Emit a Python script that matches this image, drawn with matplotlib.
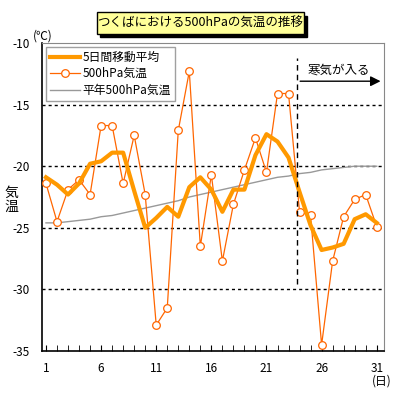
import numpy as np
import matplotlib.pyplot as plt
from matplotlib.patches import Rectangle

plt.rcParams['font.family'] = ['Noto Sans CJK JP', 'DejaVu Sans']

days = list(range(1, 32))
# 500hPa temperature (deg C)
temp500 = [-21.4, -24.5, -21.9, -21.1, -22.3, -16.7, -16.7, -21.4, -17.5, -22.3,
           -32.9, -31.5, -17.1, -12.3, -26.5, -20.7, -27.7, -23.1, -20.3, -17.7,
           -20.5, -14.1, -14.1, -23.7, -24.0, -34.5, -27.7, -24.1, -22.7, -22.3,
           -24.9]
# 5-day moving average
ma5 = [-20.9, -21.5, -22.3, -21.4, -19.8, -19.6, -18.9, -18.9, -22.0, -25.0,
       -24.2, -23.3, -24.1, -21.7, -20.9, -21.9, -23.7, -21.9, -21.9, -19.1,
       -17.4, -18.0, -19.3, -22.1, -24.8, -26.8, -26.6, -26.3, -24.3, -23.9,
       -24.6]
# normal 500hPa temperature
normal = [-24.6, -24.6, -24.5, -24.4, -24.3, -24.1, -24.0, -23.8, -23.6, -23.4,
          -23.2, -23.0, -22.8, -22.5, -22.3, -22.1, -21.9, -21.7, -21.5, -21.3,
          -21.1, -20.9, -20.8, -20.6, -20.5, -20.3, -20.2, -20.1, -20.0, -20.0,
          -20.0]
xticks = [1, 6, 11, 16, 21, 26, 31]
yticks = [-35, -30, -25, -20, -15, -10]

fig = plt.figure(figsize=(3.99, 3.99), dpi=100)
ax = fig.add_axes([0.1053, 0.1203, 0.8571, 0.7719])

for y in [-15, -20, -25, -30]:
    ax.axhline(y, color='black', lw=1, ls=(0, (2.2, 2.2)), zorder=1)

l3, = ax.plot(days, normal, color='#999999', lw=1, label='平年500hPa気温', zorder=2)
l2, = ax.plot(days, temp500, color='#FF6600', lw=0.9, marker='o', ms=5.5,
              mfc='white', mec='#FF6600', mew=0.9, label='500hPa気温', zorder=3)
l1, = ax.plot(days, ma5, color='#FF9900', lw=3, label='5日間移動平均', zorder=4)

# cold air marker
ax.plot([23.8, 23.8], [-29.6, -11.2], color='black', lw=1, ls=(0, (4, 3)), zorder=5)
ax.annotate('', xy=(31.6, -13.1), xytext=(23.8, -13.1),
            arrowprops=dict(arrowstyle='-|>', color='black', lw=1,
                            mutation_scale=15))
ax.text(24.7, -12.2, '寒気が入る', fontsize=9, va='center', ha='left')

ax.set_xlim(0.64, 31.66)
ax.set_ylim(-35, -10)
ax.set_xticks(xticks)
ax.set_xticks(days, minor=True)
ax.set_yticks(yticks)
ax.set_yticklabels([str(v) for v in yticks])
ax.tick_params(axis='x', which='both', direction='in', length=4, labelsize=8.5, pad=8)
ax.tick_params(axis='y', length=0, labelsize=8.5, pad=9)

ax.spines['left'].set_color('black')
ax.spines['bottom'].set_color('black')
ax.spines['right'].set_color('#888888')
ax.spines['top'].set_color('#888888')
ax.spines['left'].set_linewidth(1.2)
ax.spines['bottom'].set_linewidth(1.2)

leg = ax.legend(handles=[l1, l2, l3], loc='upper left', fontsize=8.5, frameon=True,
                fancybox=False, edgecolor='#888888', borderaxespad=0.3, numpoints=1,
                handlelength=2.6, handletextpad=0.2, labelspacing=0.3, borderpad=0.35)
leg.get_frame().set_linewidth(1)

fig.text(33 / 399, 1 - 36 / 399, '(℃)', fontsize=8.5, ha='left', va='center')
fig.text(382 / 399, 1 - 381 / 399, '(日)', fontsize=8.5, ha='center', va='center')
fig.text(11 / 399, 1 - 200 / 399, '気\n温', fontsize=10, ha='center', va='center',
         linespacing=1.0)

# title box with shadow
x0, y0, w, h = 97 / 399, 1 - 33.5 / 399, 207 / 399, 21 / 399
fig.patches.append(Rectangle((x0 + 3 / 399, y0 - 3 / 399), w, h,
                             transform=fig.transFigure, color='black', zorder=0))
fig.patches.append(Rectangle((x0, y0), w, h, transform=fig.transFigure,
                             facecolor='#FFFF99', edgecolor='black', lw=1, zorder=1))
fig.text(x0 + w / 2, y0 + h / 2, 'つくばにおける500hPaの気温の推移', fontsize=9,
         ha='center', va='center', zorder=2)

fig.savefig('out.png', dpi=100)
